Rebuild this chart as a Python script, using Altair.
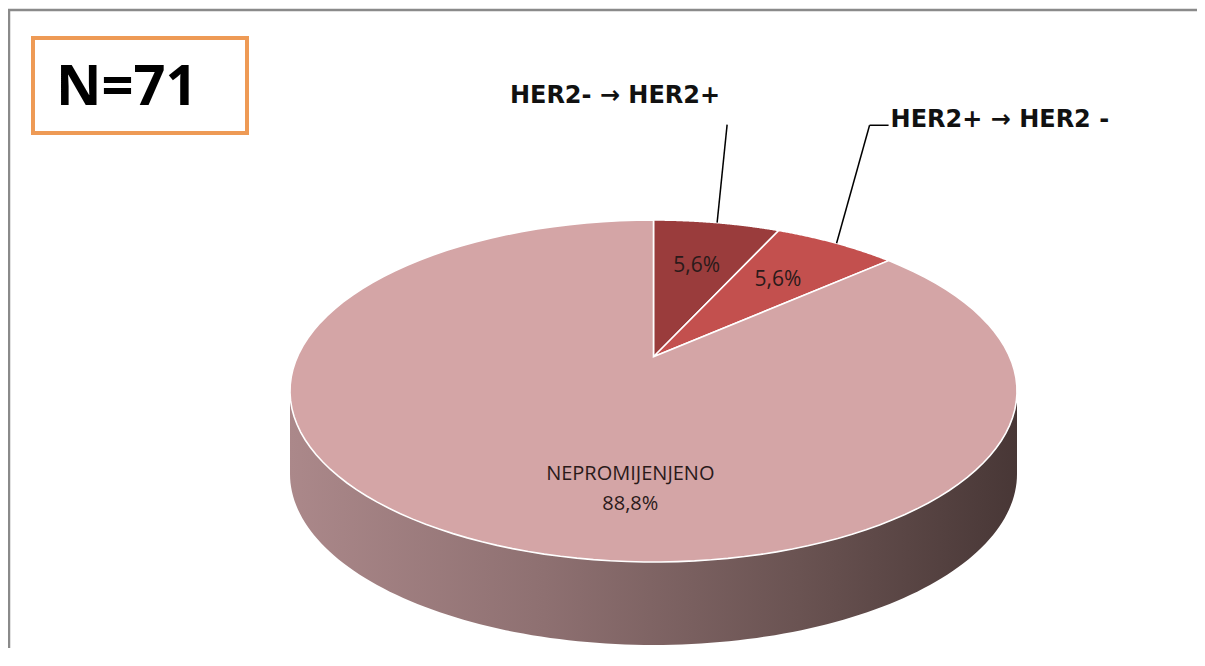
import altair as alt
import pandas as pd

# ---------------- data ----------------
categories = ["HER2- → HER2+", "HER2+ → HER2 -", "NEPROMIJENJENO"]
values = [5.6, 5.6, 88.8]
callout = [True, True, False]          # category shown as outside callout
colors = ["#9a3c3c", "#c3504e", "#d4a5a6"]
N_TOTAL = 71

# ---------------- layout (pixels inside the chart) ----------------
W, H = 1189, 640
CX, CY = 645.5, 383.0      # centre of top ellipse
RX, RY = 363.5, 171.0      # radii of top ellipse
APEX = 0.20                # apex of wedges lifted (perspective), in RY units
DEPTH = 0.485              # thickness of the pie, in RY units
NPTS = 120
FONT = "Open Sans"
CFONT = "DejaVu Sans"

XDOM = [-CX / RX, (W - CX) / RX]
YDOM = [(CY - H) / RY, CY / RY]

df = pd.DataFrame({
    "category": categories,
    "value": values,
    "idx": list(range(len(values))),
    "callout": callout,
})

xs = alt.X("u:Q", scale=alt.Scale(domain=XDOM, nice=False, zero=False), axis=None)
ys = alt.Y("v:Q", scale=alt.Scale(domain=YDOM, nice=False, zero=False), axis=None)

base = (
    alt.Chart(df)
    .transform_joinaggregate(total="sum(value)")
    .transform_window(cum="sum(value)", sort=[alt.SortField("idx")], frame=[None, 0])
    .transform_calculate(
        a1="2*PI*datum.cum/datum.total",
        a0="2*PI*(datum.cum-datum.value)/datum.total",
    )
    .transform_calculate(
        am="(datum.a0+datum.a1)/2",
        pct="replace(format(datum.value, '.1f'), '.', ',') + '%'",
    )
)

# ---- side (front wall) ----
side = (
    base.transform_calculate(
        s0="max(datum.a0, PI/2)", s1="min(datum.a1, 3*PI/2)"
    )
    .transform_filter("datum.s1 > datum.s0")
    .transform_calculate(k=f"sequence(0, {2 * NPTS + 2})")
    .transform_flatten(["k"])
    .transform_calculate(
        ang=f"datum.k <= {NPTS} ? datum.s0 + (datum.s1-datum.s0)*datum.k/{NPTS}"
            f" : datum.s1 - (datum.s1-datum.s0)*(datum.k-{NPTS + 1})/{NPTS}",
    )
    .transform_calculate(
        u="sin(datum.ang)",
        v=f"datum.k <= {NPTS} ? cos(datum.ang) : cos(datum.ang) - {DEPTH}",
    )
    .mark_line(
        interpolate="linear-closed",
        fill=alt.Gradient(
            gradient="linear",
            x1=0, x2=1, y1=0, y2=0,
            stops=[
                alt.GradientStop(color="#ab888a", offset=0),
                alt.GradientStop(color="#8e7071", offset=0.35),
                alt.GradientStop(color="#6a5352", offset=0.7),
                alt.GradientStop(color="#483736", offset=1),
            ],
        ),
        stroke="#4b3a39",
        strokeOpacity=0,
    )
    .encode(x=xs, y=ys, order=alt.Order("k:Q"), detail="category:N")
)

# ---- top face wedges ----
top = (
    base.transform_calculate(k=f"sequence(0, {NPTS + 2})")
    .transform_flatten(["k"])
    .transform_calculate(
        ang=f"datum.a0 + (datum.a1-datum.a0)*(datum.k-1)/{NPTS}"
    )
    .transform_calculate(
        u="datum.k == 0 ? 0 : sin(datum.ang)",
        v=f"datum.k == 0 ? {APEX} : cos(datum.ang)",
    )
    .mark_line(interpolate="linear-closed", stroke="white", strokeWidth=1.6)
    .encode(
        x=xs,
        y=ys,
        order=alt.Order("k:Q"),
        detail="category:N",
        fill=alt.Fill(
            "category:N",
            scale=alt.Scale(domain=categories, range=colors),
            legend=None,
        ),
    )
)

# ---- labels inside ----
lab = base.transform_calculate(
    u="0.68*sin(datum.am)",
    v=f"{APEX} + 0.68*(cos(datum.am) - {APEX})",
)
small_lbl = (
    lab.transform_filter("datum.callout")
    .mark_text(font=FONT, fontSize=21, color="#2a1a1a", align="center", baseline="middle")
    .encode(x=xs, y=ys, text="pct:N")
)
big_lbl = (
    lab.transform_filter("!datum.callout")
    .transform_calculate(txt="datum.category + '\\n' + datum.pct")
    .mark_text(font=FONT, fontSize=20, color="#2a1a1a", align="center",
               baseline="middle", lineBreak="\n", lineHeight=30, dx=62, dy=-15)
    .encode(x=xs, y=ys, text="txt:N")
)

# ---- callouts ----
rim = base.transform_calculate(u="sin(datum.am)", v="cos(datum.am)")
# leader end (lx, ly), hook end hx, text offset (tx, ty), alignment per callout slice
callout_style = {
    0: dict(lx=10, ly=-98, hx=10, tx=3, ty=-127, align="right"),
    1: dict(lx=33, ly=-118, hx=52, tx=54, ty=-123, align="left"),
}
callout_layers = []
for i, st in callout_style.items():
    sel = rim.transform_filter(f"datum.idx == {i}")
    callout_layers.append(
        sel.mark_rule(color="black", strokeWidth=1.5,
                      x2Offset=st["lx"], y2Offset=st["ly"])
        .encode(x=xs, y=ys, x2="u:Q", y2="v:Q")
    )
    if st["hx"] != st["lx"]:
        callout_layers.append(
            sel.mark_rule(color="black", strokeWidth=1.5,
                          xOffset=st["lx"], yOffset=st["ly"],
                          x2Offset=st["hx"], y2Offset=st["ly"])
            .encode(x=xs, y=ys, x2="u:Q", y2="v:Q")
        )
    callout_layers.append(
        sel.mark_text(font=CFONT, fontSize=24, fontWeight="bold", color="#111",
                      align=st["align"], baseline="middle", dx=st["tx"], dy=st["ty"])
        .encode(x=xs, y=ys, text="category:N")
    )

# ---- N box and frame ----
nd = alt.Chart(pd.DataFrame({"n": [N_TOTAL]}))
nbox = nd.mark_rect(fill="white", stroke="#ee9a55", strokeWidth=4).encode(
    x=alt.value(25), x2=alt.value(239), y=alt.value(30), y2=alt.value(125)
)
ntext = nd.transform_calculate(t="'N=' + datum.n").mark_text(
    font=FONT, fontSize=56, fontWeight="bold", color="black",
    align="left", baseline="middle"
).encode(x=alt.value(48), y=alt.value(80), text="t:N")
frame_top = nd.mark_rule(color="#8a8a8a", strokeWidth=2.5).encode(
    x=alt.value(0), x2=alt.value(W), y=alt.value(2), y2=alt.value(2)
)
frame_left = nd.mark_rule(color="#8a8a8a", strokeWidth=2.5).encode(
    x=alt.value(1), x2=alt.value(1), y=alt.value(2), y2=alt.value(H)
)

chart = alt.layer(
    side, top, small_lbl, big_lbl, *callout_layers, nbox, ntext, frame_top, frame_left
).properties(
    width=W, height=H, autosize=alt.AutoSizeParams(type="none"), padding=0
).configure_view(stroke=None)

chart.save("out.html", embed_options={"renderer": "svg", "actions": False})
